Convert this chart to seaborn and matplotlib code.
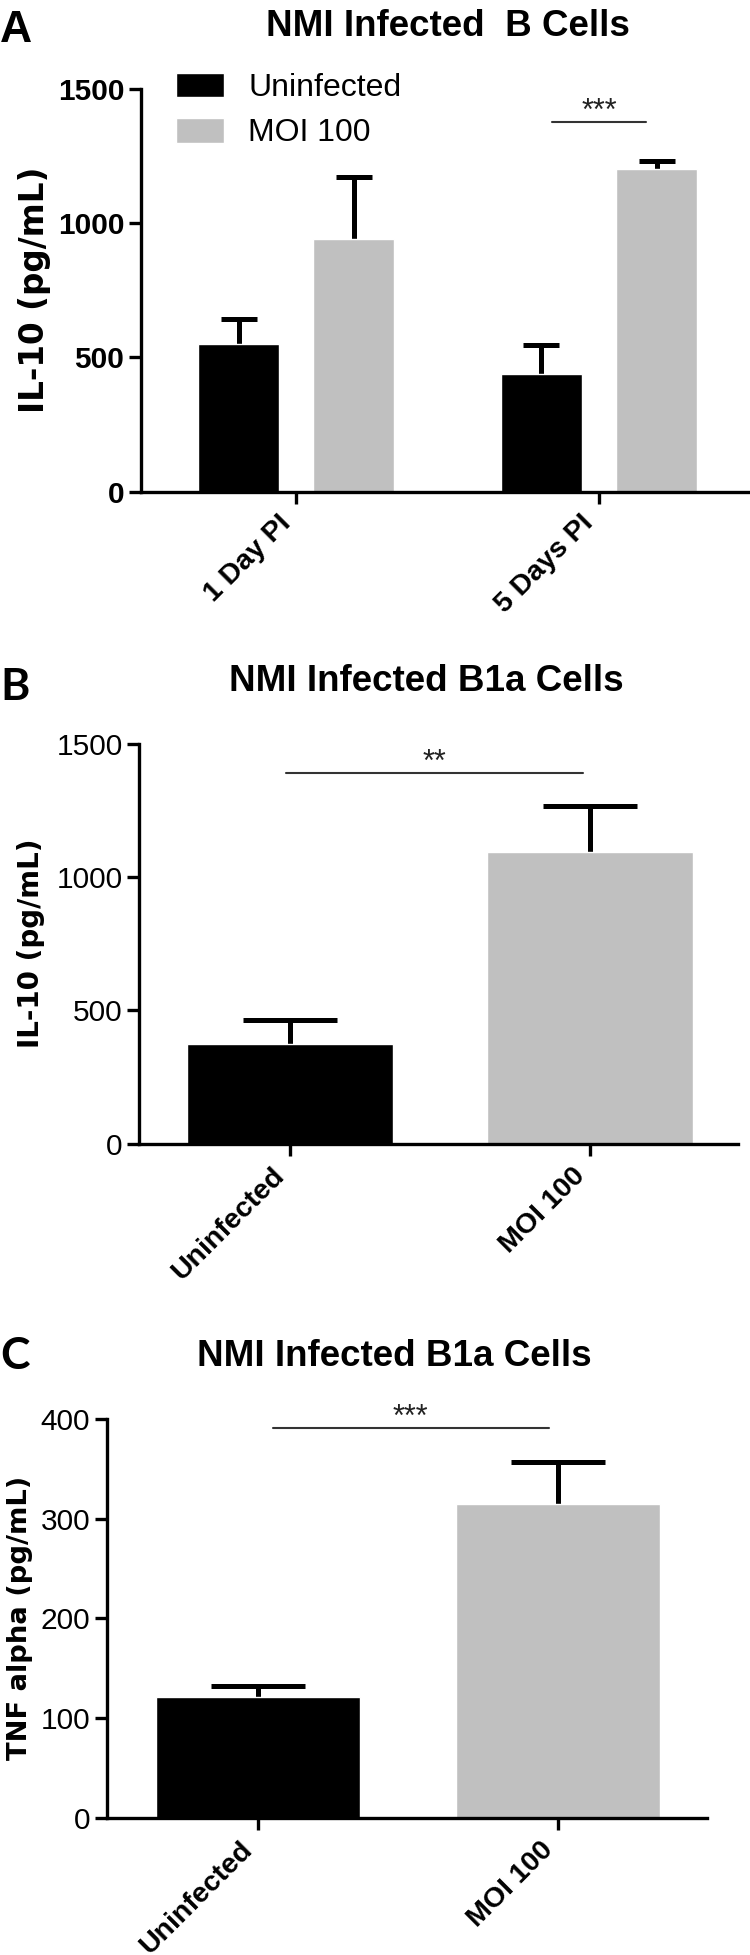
import numpy as np
import pandas as pd
import matplotlib
matplotlib.use('Agg')
import matplotlib.pyplot as plt
from matplotlib.container import BarContainer
import seaborn as sns

# panel A : IL-10, B cells, two time points
days = ['1 Day PI', '5 Days PI']
groups = ['Uninfected', 'MOI 100']
a_uninf = [548, 440]
a_uninf_sem = [95, 105]
a_moi = [940, 1200]
a_moi_sem = [232, 30]

# panel B : IL-10, B1a cells
b_groups = ['Uninfected', 'MOI 100']
b_il10 = [375, 1094]
b_il10_sem = [90, 172]

# panel C : TNF alpha, B1a cells
c_groups = ['Uninfected', 'MOI 100']
c_tnf = [121, 315]
c_tnf_sem = [11, 42]

# significance marks
stars = ['***', '**', '***']
sig_y = [1376, 1389, 391]

colors = ['#000000', '#c0c0c0']

sns.set_style('ticks')
plt.rcParams['font.family'] = ['Liberation Sans', 'DejaVu Sans']
plt.rcParams['axes.linewidth'] = 2.4
for k in ['text.color', 'axes.labelcolor', 'axes.edgecolor', 'xtick.color', 'ytick.color']:
    plt.rcParams[k] = 'black'

W, H = 750, 1955
fig = plt.figure(figsize=(W / 100, H / 100), dpi=100)


def frac(x0, x1, ytop, ybot):
    # pixel box -> figure fraction rect
    return [x0 / W, 1 - ybot / H, (x1 - x0) / W, (ybot - ytop) / H]


def bars(ax):
    return [c for c in ax.containers if isinstance(c, BarContainer)]


def add_err(ax, sems, cap):
    # symmetric bars drawn under the (opaque) bars, so only the upper half shows
    for cont, s in zip(bars(ax), sems):
        xs = [b.get_x() + b.get_width() / 2 for b in cont]
        hs = [b.get_height() for b in cont]
        ax.errorbar(xs, hs, yerr=s, fmt='none', ecolor='black',
                    elinewidth=3.6, capthick=3.6, capsize=cap, zorder=0.5)


def finish(ax, ylab, yticks, tick_bold, ysize, labx):
    sns.despine(ax=ax)
    ax.set_xlabel('')
    ax.set_ylabel(ylab, fontsize=ysize, fontweight='bold', family=['DejaVu Sans'])
    ax.yaxis.set_label_coords(labx, 0.5)
    ax.set_yticks(yticks)
    ax.tick_params(axis='both', length=8.5, width=2.4, pad=3.5)
    ax.tick_params(axis='x', pad=5)
    for t in ax.get_yticklabels():
        t.set_fontsize(21.5)
        t.set_fontweight('bold' if tick_bold else 'normal')
    for t in ax.get_xticklabels():
        t.set_fontsize(20.5)
        t.set_fontweight('bold')
        t.set_rotation(45)
        t.set_ha('right')


def sig(ax, k, x0, x1):
    ax.plot([x0, x1], [sig_y[k], sig_y[k]], color='#333333', lw=1.5, clip_on=False)
    ax.annotate(stars[k], xy=((x0 + x1) / 2, sig_y[k]), xytext=(0, 1.5),
                textcoords='offset points', ha='center', va='baseline',
                fontsize=22, color='#222222', annotation_clip=False)


# ---------------- A ----------------
axA = fig.add_axes(frac(141, 748, 88.75, 491.7))
df_a = pd.DataFrame({'day': days * 2,
                     'group': [groups[0]] * 2 + [groups[1]] * 2,
                     'val': a_uninf + a_moi})
sns.barplot(data=df_a, x='day', y='val', hue='group', palette=colors, saturation=1,
            width=0.76, gap=0.3, errorbar=None, ax=axA)
cA = [b.get_x() + b.get_width() / 2 for c in bars(axA) for b in c]
add_err(axA, [a_uninf_sem, a_moi_sem], 13.3)
axA.set_xlim(-0.512, 1.492)
axA.set_ylim(0, 1500)
finish(axA, 'IL-10 (pg/mL)', [0, 500, 1000, 1500], True, 23.5, -0.149)
sns.move_legend(axA, 'upper left', bbox_to_anchor=(0.058, 1.04), frameon=False, title=None,
                fontsize=23, handlelength=1.5, handleheight=0.81, handletextpad=0.75,
                labelspacing=0.47, borderpad=0, borderaxespad=0)
sig(axA, 0, cA[1] + 0.035, cA[3] - 0.035)

# ---------------- B ----------------
axB = fig.add_axes(frac(139.4, 738, 743.75, 1143.75))
df_b = pd.DataFrame({'group': b_groups, 'val': b_il10})
sns.barplot(data=df_b, x='group', y='val', hue='group', palette=colors, saturation=1,
            width=0.685, errorbar=None, legend=False, ax=axB)
add_err(axB, [[b_il10_sem[0]], [b_il10_sem[1]]], 34)
axB.set_xlim(-0.502, 1.493)
axB.set_ylim(0, 1500)
finish(axB, 'IL-10 (pg/mL)', [0, 500, 1000, 1500], False, 20, -0.157)
sig(axB, 1, -0.013, 0.977)

# ---------------- C ----------------
axC = fig.add_axes(frac(106.7, 707, 1418.9, 1817.6))
df_c = pd.DataFrame({'group': c_groups, 'val': c_tnf})
sns.barplot(data=df_c, x='group', y='val', hue='group', palette=colors, saturation=1,
            width=0.68, errorbar=None, legend=False, ax=axC)
add_err(axC, [[c_tnf_sem[0]], [c_tnf_sem[1]]], 34)
axC.set_xlim(-0.504, 1.497)
axC.set_ylim(0, 400)
finish(axC, 'TNF alpha (pg/mL)', [0, 100, 200, 300, 400], False, 19.7, -0.122)
sig(axC, 2, 0.049, 0.97)

# titles and panel letters
fig.text(448 / W, 1 - 27 / H, 'NMI Infected  B Cells', ha='center', va='center',
         fontsize=26.5, fontweight='bold')
fig.text(426 / W, 1 - 681 / H, 'NMI Infected B1a Cells', ha='center', va='center',
         fontsize=26.5, fontweight='bold')
fig.text(394 / W, 1 - 1357 / H, 'NMI Infected B1a Cells', ha='center', va='center',
         fontsize=26.5, fontweight='bold')
fig.text(0 / W, 1 - 42 / H, 'A', ha='left', va='baseline', fontsize=32, fontweight='bold')
fig.text(0 / W, 1 - 700 / H, 'B', ha='left', va='baseline', fontsize=32, fontweight='bold',
         family=['Lato', 'Liberation Sans'])
fig.text(0 / W, 1 - 1369 / H, 'C', ha='left', va='baseline', fontsize=32, fontweight='bold',
         family=['Lato', 'Liberation Sans'])

fig.savefig('out.png', dpi=100)
